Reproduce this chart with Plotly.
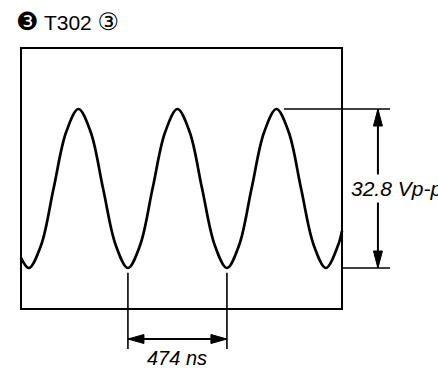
import plotly.graph_objects as go

# ---- data ----
time_ns = [0, 38, 97, 156, 216, 275, 334, 393, 453, 512, 571, 630, 690, 749, 808,
           867, 927, 986, 1045, 1104, 1164, 1223, 1282, 1341, 1401, 1460, 1519, 1537]
volts = [2.1, 0.0, 4.8, 16.4, 28.0, 32.8, 28.0, 16.4, 4.8, 0.0, 4.8, 16.4, 28.0, 32.8, 28.0,
         16.4, 4.8, 0.0, 4.8, 16.4, 28.0, 32.8, 28.0, 16.4, 4.8, 0.0, 4.8, 7.7]
period_ns = 474
vpp = 32.8
minima_ns = [512, 986]          # period markers
peak_ns = 1223
title_badge = "❸"
title_label = "T302"
title_circled = "③"

# screen (graticule frame) extent in data units
screen_t = [0, 1537]
screen_v = [-8.46, 45.4]

FONT = "Liberation Sans, Arial, DejaVu Sans, Noto Sans CJK JP"

fig = go.Figure()
fig.add_trace(go.Scatter(x=time_ns, y=volts, mode="lines",
                         line=dict(color="black", width=2.7, shape="spline", smoothing=1.0),
                         hoverinfo="skip", showlegend=False))

shapes = []
# screen frame
shapes.append(dict(type="rect", xref="x", yref="y", x0=screen_t[0], x1=screen_t[1],
                   y0=screen_v[0], y1=screen_v[1], line=dict(color="black", width=2)))

vmin = min(volts)
vmax = max(volts)
LW = 1.6
# period markers (vertical lines below minima)
tick_top = vmin - 1.0
tick_bot = vmin - 16.7
arrow_y = vmin - 14.65
for t in minima_ns:
    shapes.append(dict(type="line", xref="x", yref="y", x0=t, x1=t, y0=tick_top, y1=tick_bot,
                       line=dict(color="black", width=LW)))
# horizontal arrow shaft
shapes.append(dict(type="line", xref="x", yref="y", x0=minima_ns[0], x1=minima_ns[1],
                   y0=arrow_y, y1=arrow_y, line=dict(color="black", width=LW + 0.4)))
# arrowheads pointing outward (pixel-sized)
shapes.append(dict(type="path", xref="x", yref="y", xsizemode="pixel", ysizemode="pixel",
                   xanchor=minima_ns[0], yanchor=arrow_y, path="M0,0 L16,4.5 L16,-4.5 Z",
                   fillcolor="black", line=dict(color="black", width=1)))
shapes.append(dict(type="path", xref="x", yref="y", xsizemode="pixel", ysizemode="pixel",
                   xanchor=minima_ns[1], yanchor=arrow_y, path="M0,0 L-16,4.5 L-16,-4.5 Z",
                   fillcolor="black", line=dict(color="black", width=1)))

# peak-to-peak level lines
level_end = 1767
vt_arrow = 1709
shapes.append(dict(type="line", xref="x", yref="y", x0=1259, x1=level_end, y0=vmax, y1=vmax,
                   line=dict(color="black", width=LW)))
shapes.append(dict(type="line", xref="x", yref="y", x0=screen_t[1], x1=level_end, y0=vmin, y1=vmin,
                   line=dict(color="black", width=LW)))
shapes.append(dict(type="line", xref="x", yref="y", x0=vt_arrow, x1=vt_arrow, y0=vmin, y1=vmax,
                   line=dict(color="black", width=LW + 0.4)))
shapes.append(dict(type="path", xref="x", yref="y", xsizemode="pixel", ysizemode="pixel",
                   xanchor=vt_arrow, yanchor=vmax, path="M0,0 L-4.5,-17 L4.5,-17 Z",
                   fillcolor="black", line=dict(color="black", width=1)))
shapes.append(dict(type="path", xref="x", yref="y", xsizemode="pixel", ysizemode="pixel",
                   xanchor=vt_arrow, yanchor=vmin, path="M0,0 L-4.5,17 L4.5,17 Z",
                   fillcolor="black", line=dict(color="black", width=1)))

annotations = [
    dict(x=(minima_ns[0] + minima_ns[1]) / 2, y=vmin - 18.6, xref="x", yref="y",
         text=f"<i>{period_ns} ns</i>", showarrow=False,
         font=dict(family=FONT, size=20, color="black")),
    dict(x=1566, y=(vmin + vmax) / 2, xref="x", yref="y", xanchor="left",
         text=f"<i>{vpp} Vp-p</i>", showarrow=False, bgcolor="white", borderpad=2,
         font=dict(family=FONT, size=21, color="black")),
    dict(x=14 / 438, y=1 - 21 / 370, xref="paper", yref="paper", xanchor="left", yanchor="middle",
         text=(f"<span style='font-size:25px'>{title_badge}</span> {title_label} "
               f"<span style='font-size:24px'>{title_circled}</span>"),
         showarrow=False,
         font=dict(family=FONT, size=21, color="black")),
]

fig.update_layout(
    width=438, height=370,
    margin=dict(l=0, r=0, t=0, b=0, pad=0),
    paper_bgcolor="white", plot_bgcolor="white",
    xaxis=dict(range=[-100.5, 1996.6], visible=False, fixedrange=True),
    yaxis=dict(range=[-21.04, 55.29], visible=False, fixedrange=True),
    shapes=shapes, annotations=annotations, showlegend=False,
)
fig.write_html("out.html", config={"displayModeBar": False},
               post_script="document.body.style.margin='0';document.body.style.overflow='hidden';")
